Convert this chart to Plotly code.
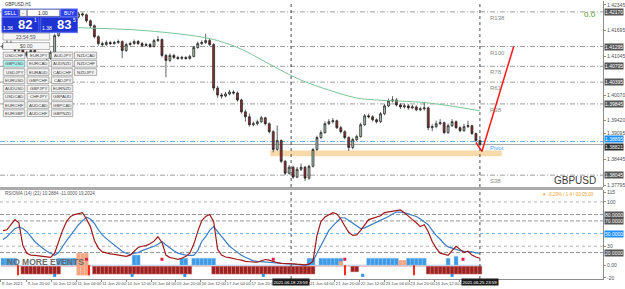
import plotly.graph_objects as go

# ---------------- data ----------------
CLOSE = [1.4132, 1.41395, 1.41295, 1.41195, 1.41245, 1.41145, 1.4107, 1.41195, 1.4112, 1.4102,
         1.4107, 1.40995, 1.41145, 1.4157, 1.41745, 1.41895, 1.41995, 1.4207, 1.42045, 1.4212,
         1.42095, 1.41945, 1.4182, 1.41545, 1.4137, 1.41345, 1.41395, 1.4137, 1.41395, 1.4142,
         1.41195, 1.41345, 1.4137, 1.4142, 1.4137, 1.4132, 1.41345, 1.41295, 1.41445, 1.4147,
         1.4107, 1.40945, 1.4107, 1.4102, 1.40995, 1.4102, 1.40995, 1.41045, 1.4127, 1.4137,
         1.41395, 1.41445, 1.41345, 1.40245, 1.4007, 1.40045, 1.40095, 1.40145, 1.4012, 1.39945,
         1.39645, 1.3952, 1.3932, 1.39345, 1.39395, 1.39495, 1.39345, 1.39145, 1.38695, 1.3892,
         1.38395, 1.38095, 1.38245, 1.37995, 1.38195, 1.38245, 1.3797, 1.3827, 1.38695, 1.38995,
         1.3912, 1.39345, 1.39395, 1.3942, 1.39245, 1.39145, 1.38995, 1.38745, 1.38945, 1.3902,
         1.3932, 1.39545, 1.3952, 1.39445, 1.39395, 1.39595, 1.39795, 1.3992, 1.39945, 1.3982,
         1.3977, 1.39795, 1.39745, 1.3977, 1.39695, 1.3972, 1.39745, 1.39245, 1.3927, 1.39345,
         1.3937, 1.3912, 1.39295, 1.39395, 1.39245, 1.3917, 1.3927, 1.39295, 1.39095, 1.3892,
         1.3882]
HIGH = [1.4138, 1.4145, 1.4144, 1.4134, 1.4130, 1.4129, 1.4119, 1.4125, 1.4124, 1.4116,
        1.4112, 1.4110, 1.4119, 1.4161, 1.4180, 1.4194, 1.4204, 1.4212, 1.4211, 1.4217,
        1.4215, 1.4213, 1.4198, 1.4185, 1.4158, 1.4142, 1.4145, 1.4144, 1.4144, 1.4147,
        1.4145, 1.4139, 1.4142, 1.4147, 1.4146, 1.4141, 1.4139, 1.4138, 1.4149, 1.4156,
        1.4150, 1.4111, 1.4112, 1.4111, 1.4106, 1.4106, 1.4105, 1.4109, 1.4131, 1.4142,
        1.4145, 1.4162, 1.4150, 1.4138, 1.4030, 1.4012, 1.4015, 1.4020, 1.4019, 1.4016,
        1.3998, 1.3970, 1.3960, 1.3940, 1.3945, 1.3954, 1.3952, 1.3938, 1.3918, 1.3930,
        1.3895, 1.3843, 1.3830, 1.3828, 1.3825, 1.3834, 1.3828, 1.3831, 1.3873, 1.3904,
        1.3918, 1.3940, 1.3946, 1.3949, 1.3945, 1.3929, 1.3918, 1.3903, 1.3899, 1.3907,
        1.3937, 1.3959, 1.3960, 1.3956, 1.3948, 1.3964, 1.3984, 1.3998, 1.4004, 1.3999,
        1.3986, 1.3985, 1.3984, 1.3982, 1.3981, 1.3977, 1.3990, 1.3978, 1.3933, 1.3942,
        1.3946, 1.3940, 1.3935, 1.3946, 1.3943, 1.3928, 1.3934, 1.3942, 1.3932, 1.3912,
        1.3895]
LOW = [1.4122, 1.4128, 1.4125, 1.4115, 1.4116, 1.4110, 1.4102, 1.4104, 1.4108, 1.4098,
       1.4099, 1.4095, 1.4096, 1.4112, 1.4153, 1.4171, 1.4186, 1.4196, 1.4200, 1.4201,
       1.4205, 1.4190, 1.4176, 1.4150, 1.4132, 1.4130, 1.4131, 1.4133, 1.4134, 1.4136,
       1.4100, 1.4116, 1.4131, 1.4134, 1.4133, 1.4128, 1.4129, 1.4126, 1.4127, 1.4141,
       1.4102, 1.4052, 1.4090, 1.4098, 1.4096, 1.4096, 1.4096, 1.4096, 1.4102, 1.4124,
       1.4133, 1.4136, 1.4130, 1.4018, 1.4000, 1.3998, 1.4001, 1.4006, 1.4008, 1.3990,
       1.3960, 1.3940, 1.3927, 1.3928, 1.3930, 1.3936, 1.3930, 1.3910, 1.3862, 1.3866,
       1.3835, 1.3805, 1.3806, 1.3795, 1.3797, 1.3815, 1.3790, 1.3793, 1.3824, 1.3866,
       1.3896, 1.3909, 1.3931, 1.3935, 1.3921, 1.3910, 1.3895, 1.3866, 1.3870, 1.3890,
       1.3899, 1.3929, 1.3948, 1.3940, 1.3935, 1.3936, 1.3956, 1.3976, 1.3988, 1.3978,
       1.3972, 1.3973, 1.3970, 1.3971, 1.3966, 1.3966, 1.3968, 1.3918, 1.3916, 1.3923,
       1.3931, 1.3908, 1.3909, 1.3926, 1.3921, 1.3913, 1.3914, 1.3924, 1.3906, 1.3888,
       1.3877]
FIRST_OPEN = 1.4127
OPEN = [FIRST_OPEN] + CLOSE[:-1]
BARS = list(range(len(CLOSE)))

MA_BARS = [0, 19, 36, 52, 59, 64, 69, 75, 82, 89, 94, 107, 120]
MA_VALUES = [1.4182, 1.4177, 1.41695, 1.41495, 1.4127, 1.4102, 1.40745, 1.40445,
             1.40195, 1.39995, 1.39945, 1.3987, 1.3967]

PROJ_BARS = [119, 120.5, 128.5]
PROJ_VALUES = [1.3887, 1.38645, 1.41295]

LEVEL_NAMES = ["R138", "R100", "R78", "R61", "R38", "Pivot", "S38"]
LEVEL_VALUES = [1.4217, 1.41295, 1.40795, 1.40395, 1.39845, 1.38895, 1.38045]
BID = 1.38821
ZONE_LOW, ZONE_HIGH = 1.38520, 1.38670
ZONE_START, ZONE_END = 67.25, 125.5
MARK_BARS = [72.5, 120]
MARK_LABELS = ["2021.06.18 23:59", "2021.06.25 23:59"]

PRICE_TICKS = [1.37795, 1.38445, 1.39095, 1.39420, 1.40070, 1.41045, 1.41695, 1.42345]

TIME_TICKS = [-0.5, 6, 12.25, 18.5, 24.75, 31, 37.25, 43.5, 49.75, 56, 62.25,
              77, 83.5, 89.75, 96, 102.25, 108.5, 114.75]
TIME_LABELS = ["8 Jun 2021", "9 Jun 20:00", "10 Jun 12:00", "11 Jun 04:00", "11 Jun 20:00",
               "14 Jun 12:00", "15 Jun 04:00", "15 Jun 20:00", "16 Jun 12:00", "17 Jun 04:00",
               "17 Jun 20:00", "21 Jun 04:00", "21 Jun 20:00", "22 Jun 12:00", "23 Jun 04:00",
               "23 Jun 20:00", "24 Jun 12:00", "25 Jun 04:00"]

RSI_RED = [54.7, 56, 64, 72, 67, 31, 19, 16, 15.6, 15,
           14, 13, 12.5, 19, 37, 55, 69, 77, 80, 82,
           83, 73, 61, 39, 27, 21, 19, 18, 17, 16,
           15, 14, 16, 22, 28, 30, 31, 34, 38, 45,
           36, 16, 12, 11, 9.4, 11, 14, 19, 33, 53,
           70, 77, 80, 69, 25, 16, 13, 12, 10, 9,
           8, 6, 5.5, 5, 4.7, 7, 9, 8, 5.5, 4,
           3, 3, 2.5, 2.3, 1.6, 1.1, 0.6, 1.6, 6, 47,
           69, 76, 80, 83, 81, 73, 62, 52, 47, 48,
           55, 64, 72, 74, 76, 78, 83, 84, 86, 87,
           87.5, 83, 77, 72, 67, 61, 64, 53, 37.5, 27,
           19, 17, 15.6, 23, 30, 25, 20, 22, 16, 13,
           11]
RSI_BLUE = [40.6, 45, 51.5, 58, 60, 58, 53, 45, 37.5, 32,
            27, 22, 19, 15.6, 20, 30, 39, 47, 56, 64,
            70, 76, 73, 66, 56, 48, 42, 37, 31, 26,
            22, 19, 17, 19, 20, 23, 25, 27, 30, 33,
            37.5, 32, 27, 23, 19, 17, 16, 15.6, 15.6, 23,
            37.5, 45, 55, 61, 53, 45, 37.5, 30, 25, 20,
            15.6, 12.5, 9.4, 7, 6, 5.5, 4.7, 4.7, 4.2, 3.8,
            3.1, 3.1, 2.8, 2.3, 1.6, 0.8, 0, 0.8, 6, 19,
            31, 42, 55, 62, 69, 75, 75, 71, 66, 62,
            58, 59, 62, 64, 67, 70, 73, 77, 81, 84,
            84, 83, 81, 79, 77, 73, 69, 64, 55, 47,
            41, 34, 29, 27, 24, 23, 22, 22, 21, 19.5,
            19]
HIST_UP = [11, 11, 11, 11, 0, 0, 0, 0, 0, 0,
           0, 0, 0, 0, 11, 11, 11, 11, 11, 11,
           0, 0, 0, 0, 0, 0, 0, 0, 0, 0,
           0, 0, 0, 16, 16, 0, 0, 0, 0, 0,
           0, 0, 0, 0, 0, 11, 11, 0, 11, 11,
           11, 11, 11, 11, 0, 0, 0, 0, 0, 0,
           0, 0, 0, 0, 0, 0, 0, 0, 0, 0,
           0, 0, 0, 0, 0, 0, 0, 11, 11, 0,
           11, 11, 11, 11, 11, 11, 0, 0, 0, 0,
           0, 0, 11, 11, 11, 11, 11, 11, 11, 11,
           0, 0, 11, 11, 11, 11, 11, 0, 0, 0,
           0, 0, 11, 0, 14, 0, 0, 0, 0, 0,
           0]
HIST_DN = [0, 0, 0, 0, 0, -12.5, -12.5, -12.5, -12.5, -12.5,
           -12.5, -12.5, -12.5, -12.5, -12.5, 0, 0, 0, 0, 0,
           0, 0, 0, -12.5, -12.5, -12.5, -12.5, -12.5, -12.5, -12.5,
           -12.5, -12.5, -12.5, -12.5, -12.5, -12.5, -12.5, -12.5, -12.5, -12.5,
           -12.5, -12.5, -12.5, -12.5, -12.5, -12.5, -12.5, -12.5, 0, 0,
           0, 0, 0, -12.5, -12.5, -12.5, -12.5, -12.5, -12.5, -12.5,
           -12.5, -12.5, -12.5, -12.5, -12.5, -12.5, -12.5, -12.5, -12.5, -12.5,
           -12.5, -12.5, -12.5, -12.5, -12.5, -12.5, -12.5, -12.5, -12.5, 0,
           0, 0, 0, 0, 0, 0, 0, 0, -9, -9,
           0, 0, 0, 0, 0, 0, 0, 0, 0, 0,
           0, 0, 0, 0, 0, 0, 0, -12.5, -12.5, -12.5,
           -12.5, -12.5, -12.5, -12.5, -12.5, -12.5, -12.5, -12.5, -12.5, -12.5,
           -12.5]
HIST_DN_BASE = -1.5
SALMON_BARS = [19, 20, 21, 85, 100, 101]
SALMON_VALUES = [35, 35, 35, 6, 8, 8]
SALMON_BASE = [-16, -16, -16, 0, 0, 0]
SPIKE_BARS = [3.75, 21.75, 86, 103.5]
SPIKE_VALUES = [-16, -16, -16, -16]
RED_DOT_BARS = [21, 40, 68, 86, 115.75]
RED_DOT_VALUES = [9.4, 9.4, 9.4, 9.4, 9.4]
BLUE_DOT_BARS = [13, 32.5, 45.75, 65.5, 90.5, 113]
BLUE_DOT_VALUES = [-16, -16, -16, -16, -16, -16]

RSI_LEVELS = [100, 80, 70, 50, 30, 20]
RSI_LEVEL_HL = [80, 70, 50, 20]

PAIR_ROWS = [["USDCHF", "EURJPY", "AUDJPY", "NZDCAD"],
             ["GBPUSD", "EURCAD", "AUDNZD", "NZDCHF"],
             ["USDJPY", "EURAUD", "CADCHF", "NZDJPY"],
             ["EURUSD", "GBPCHF", "CADJPY"],
             ["AUDUSD", "GBPJPY", "EURNZD"],
             ["USDCAD", "CHFJPY", "GBPAUD"],
             ["EURCHF", "AUDCAD", "GBPCAD"],
             ["EURGBP", "AUDCHF", "GBPNZD"]]

# ---------------- layout helpers ----------------
W, H = 625, 289
def px(x):
    return x / W
def py(y):
    return 1 - y / H

FONT = "Liberation Sans"
XR = [-0.75, 151.0]
PLOT_R = px(607)
MAIN_DOM = [py(188), 1.0]
SUB_DOM = [py(281), py(191)]

fig = go.Figure()

# --- main panel ---
fig.add_trace(go.Candlestick(
    x=BARS, open=OPEN, high=HIGH, low=LOW, close=CLOSE,
    increasing=dict(line=dict(color="#1c1c1c", width=0.7), fillcolor="#a9c0b2"),
    decreasing=dict(line=dict(color="#1c1c1c", width=0.7), fillcolor="#8c3030"),
    whiskerwidth=0, hoverinfo="skip", xaxis="x", yaxis="y"))
fig.add_trace(go.Scatter(x=MA_BARS, y=MA_VALUES, mode="lines",
                         line=dict(color="#7cc49c", width=1, shape="spline"),
                         hoverinfo="skip", xaxis="x", yaxis="y"))
fig.add_trace(go.Scatter(x=PROJ_BARS, y=PROJ_VALUES, mode="lines",
                         line=dict(color="#ff1a1a", width=1.5),
                         hoverinfo="skip", xaxis="x", yaxis="y", cliponaxis=False))

# --- indicator panel ---
fig.add_trace(go.Bar(x=BARS, y=HIST_UP, base=0, width=1,
                     marker=dict(color="#3f9be6", line=dict(color="#8cc6f5", width=0.4)),
                     hoverinfo="skip", xaxis="x2", yaxis="y2"))
fig.add_trace(go.Bar(x=BARS, y=HIST_DN, base=HIST_DN_BASE, width=1,
                     marker=dict(color="#9c2222", line=dict(color="#e38a8a", width=0.4)),
                     hoverinfo="skip", xaxis="x2", yaxis="y2"))
fig.add_trace(go.Bar(x=SALMON_BARS, y=SALMON_VALUES, base=SALMON_BASE, width=1,
                     marker=dict(color="#f4a582", line=dict(width=0)),
                     hoverinfo="skip", xaxis="x2", yaxis="y2"))
fig.add_trace(go.Bar(x=SPIKE_BARS, y=SPIKE_VALUES, base=0, width=0.3,
                     marker=dict(color="#ff2a1a", line=dict(width=0)),
                     hoverinfo="skip", xaxis="x2", yaxis="y2"))
fig.add_trace(go.Scatter(x=BARS, y=RSI_BLUE, mode="lines", line=dict(color="#3a7dc4", width=1.2),
                         hoverinfo="skip", xaxis="x2", yaxis="y2"))
fig.add_trace(go.Scatter(x=BARS, y=RSI_RED, mode="lines", line=dict(color="#a01818", width=1.2),
                         hoverinfo="skip", xaxis="x2", yaxis="y2"))
fig.add_trace(go.Scatter(x=RED_DOT_BARS, y=RED_DOT_VALUES, mode="markers",
                         marker=dict(symbol="square", size=3, color="#e0204a"),
                         hoverinfo="skip", xaxis="x2", yaxis="y2"))
fig.add_trace(go.Scatter(x=BLUE_DOT_BARS, y=BLUE_DOT_VALUES, mode="markers",
                         marker=dict(symbol="square", size=3, color="#2f8fe6"),
                         hoverinfo="skip", xaxis="x2", yaxis="y2"))

shapes = []
annotations = []

# zone
shapes.append(dict(type="rect", xref="x", yref="y", x0=ZONE_START, x1=ZONE_END, y0=ZONE_LOW, y1=ZONE_HIGH,
                   fillcolor="#f8d9aa", line=dict(width=0), layer="below"))
# level lines + labels
for name, val in zip(LEVEL_NAMES, LEVEL_VALUES):
    col = "#3f9fff" if name == "Pivot" else "#858585"
    shapes.append(dict(type="line", xref="paper", yref="y", x0=0, x1=PLOT_R, y0=val, y1=val,
                       line=dict(color=col, width=0.8, dash="5px,2px,1px,2px"), layer="below"))
    annotations.append(dict(x=122, y=val, xref="x", yref="y", text=name, showarrow=False,
                            xanchor="left", yanchor="top", yshift=-1,
                            font=dict(family=FONT, size=6, color="#3f9fff" if name == "Pivot" else "#8a8a8a")))
    annotations.append(dict(x=px(608), y=val, xref="paper", yref="y", text=f"{val:.5f}", showarrow=False,
                            xanchor="left", yanchor="bottom" if name == "Pivot" else "middle",
                            yshift=-1 if name == "Pivot" else 0,
                            bgcolor="#1e8fff" if name == "Pivot" else "#555555",
                            borderpad=0, font=dict(family=FONT, size=5, color="#ffffff")))
shapes.append(dict(type="line", xref="paper", yref="y", x0=0, x1=PLOT_R, y0=BID, y1=BID,
                   line=dict(color="#a6a6a6", width=1), layer="below"))
annotations.append(dict(x=px(608), y=BID, xref="paper", yref="y", text=f"{BID:.5f}", showarrow=False,
                        xanchor="left", yanchor="top", yshift=1, bgcolor="#2e2e2e", borderpad=0,
                        font=dict(family=FONT, size=5, color="#ffffff")))

# vertical dotted markers
for b in MARK_BARS:
    for dom in (MAIN_DOM, SUB_DOM):
        shapes.append(dict(type="line", xref="x", yref="paper", x0=b, x1=b, y0=dom[0], y1=dom[1],
                           line=dict(color="#4a4a4a", width=1, dash="dot")))
for b, lab in zip(MARK_BARS, MARK_LABELS):
    annotations.append(dict(x=b, y=py(283.5), xref="x", yref="paper", text=lab, showarrow=False,
                            xanchor="center", yanchor="middle", bgcolor="#1b1b1b", borderpad=0.5,
                            font=dict(family=FONT, size=4.4, color="#ffffff")))

# RSI levels
for lv in RSI_LEVELS:
    if lv == 50:
        ln = dict(color="#4a9fff", width=0.8, dash="dot")
    elif lv in (100, 30):
        ln = dict(color="#a0a0a0", width=0.8, dash="dot")
    else:
        ln = dict(color="#7a7a7a", width=0.8, dash="4px,2px")
    shapes.append(dict(type="line", xref="paper", yref="y2", x0=0, x1=PLOT_R, y0=lv, y1=lv, line=ln, layer="below"))
for lv in RSI_LEVEL_HL:
    annotations.append(dict(x=px(608), y=lv, xref="paper", yref="y2", text=f"{lv:.4f}", showarrow=False,
                            xanchor="left", yanchor="middle", bgcolor="#1e8fff" if lv == 50 else "#555555",
                            borderpad=0, font=dict(family=FONT, size=5, color="#ffffff")))

# separator band between panels
shapes.append(dict(type="rect", xref="paper", yref="paper", x0=0, x1=PLOT_R, y0=py(191), y1=py(188),
                   fillcolor="#ababab", line=dict(width=0)))

# texts on chart
annotations.append(dict(x=px(3), y=py(3.5), xref="paper", yref="paper", text="GBPUSD,H1", showarrow=False,
                        xanchor="left", yanchor="middle", font=dict(family=FONT, size=4.5, color="#333333")))
annotations.append(dict(x=px(594), y=py(13.5), xref="paper", yref="paper", text="0.0", showarrow=False,
                        xanchor="center", yanchor="middle", font=dict(family=FONT, size=8, color="#4c9a2a")))
annotations.append(dict(x=px(579), y=py(181), xref="paper", yref="paper", text="GBPUSD", showarrow=False,
                        xanchor="center", yanchor="middle", font=dict(family=FONT, size=10, color="#3a3a3a")))
annotations.append(dict(x=px(3), y=py(195), xref="paper", yref="paper",
                        text="RSIOMA (14) (21) 10.2884 -11.0000 19.2024", showarrow=False,
                        xanchor="left", yanchor="middle", font=dict(family=FONT, size=4.5, color="#555555")))
annotations.append(dict(x=px(600), y=py(195.5), xref="paper", yref="paper",
                        text="▼ -0.29% / 1.4 / 00:05:00", showarrow=False,
                        xanchor="right", yanchor="middle", font=dict(family=FONT, size=4.5, color="#f0a030")))
annotations.append(dict(x=px(5), y=py(263.5), xref="paper", yref="paper", text="<b>NO MORE EVENTS</b>", showarrow=False,
                        xanchor="left", yanchor="middle", font=dict(family=FONT, size=8.5, color="#6a6a6a")))

# ---- trade panel (UI overlay) ----
BLUE = "#1f33d2"
def rect(x0, y0, x1, y1, fill, line="#7a7a7a", lw=0.8):
    shapes.append(dict(type="rect", xref="paper", yref="paper", x0=px(x0), x1=px(x1), y0=py(y1), y1=py(y0),
                       fillcolor=fill, line=dict(color=line, width=lw), layer="above"))
def text(x, y, t, size, color, anchor="center", bold=False):
    annotations.append(dict(x=px(x), y=py(y), xref="paper", yref="paper", text=f"<b>{t}</b>" if bold else t,
                            showarrow=False, xanchor=anchor, yanchor="middle",
                            font=dict(family=FONT, size=size, color=color)))

rect(2, 8, 78, 32, BLUE, "#6f7fff", 0.8)
rect(2, 8, 19, 16, "#2a40e6", "#9aa6ff", 0.6)
text(10.5, 12, "SELL", 5, "#ffffff")
rect(20, 8.5, 27, 15.5, "#f4f4f4", "#777777", 0.5)
text(23.5, 12, "-", 5, "#222222")
rect(27.5, 8.5, 60, 15.5, "#ffffff", "#777777", 0.5)
text(43, 12, "1.00", 5, "#222222")
rect(61, 8, 78, 16, "#2a40e6", "#9aa6ff", 0.6)
text(69.5, 12, "BUY", 5, "#ffffff")
rect(2, 16.5, 39, 31.5, BLUE, "#6f7fff", 0.6)
rect(41, 16.5, 78, 31.5, BLUE, "#6f7fff", 0.6)
text(8, 27, "1.38", 5, "#ffffff")
text(25, 24, "82", 13, "#ffffff", bold=True)
text(35.5, 19.5, "1", 5, "#ffffff")
text(47, 27, "1.38", 5, "#ffffff")
text(64, 24, "83", 13, "#ffffff", bold=True)
text(74.5, 19.5, "5", 5, "#ffffff")
rect(3, 32.5, 50, 39.5, "#f6f6f6", "#8a8a8a", 0.6)
text(26.5, 36, "23:54:59", 5, "#555555")
rect(3, 42, 50, 49, "#f6f6f6", "#8a8a8a", 0.6)
text(26.5, 45.5, "$0.00", 5, "#555555")

COLS = [(3.3, 25), (27.3, 49.3), (51.7, 73.3), (75, 97.3)]
for r, row in enumerate(PAIR_ROWS):
    y0 = 51.7 + 8.33 * r
    for c, name in enumerate(row):
        x0, x1 = COLS[c]
        fill = "#aef2f2" if name == "GBPUSD" else "#f2f2f2"
        rect(x0, y0, x1, y0 + 6.8, fill, "#7d7d7d", 0.6)
        text((x0 + x1) / 2, y0 + 3.5, name, 4.4, "#444444")

fig.update_layout(
    width=W, height=H, margin=dict(l=0, r=0, t=0, b=0),
    paper_bgcolor="#ffffff", plot_bgcolor="#ffffff",
    showlegend=False, hovermode=False, barmode="overlay",
    shapes=shapes, annotations=annotations,
    xaxis=dict(domain=[0, PLOT_R], range=XR, anchor="y", showticklabels=False, showgrid=False,
               zeroline=False, showline=False, ticks="", rangeslider=dict(visible=False)),
    yaxis=dict(domain=MAIN_DOM, range=[1.37745, 1.42445], anchor="x", side="right",
               showgrid=False, zeroline=False, showline=True, linecolor="#8c8c8c", linewidth=1,
               ticks="outside", ticklen=2, tickcolor="#8c8c8c", tickvals=PRICE_TICKS, tickformat=".5f",
               tickfont=dict(family=FONT, size=5, color="#505050")),
    xaxis2=dict(domain=[0, PLOT_R], range=XR, anchor="y2", showgrid=False, zeroline=False,
                showline=True, linecolor="#8c8c8c", linewidth=1, ticks="outside", ticklen=2,
                tickcolor="#8c8c8c", tickvals=TIME_TICKS, ticktext=TIME_LABELS, tickangle=0,
                ticklabelposition="outside right",
                tickfont=dict(family=FONT, size=4.2, color="#505050")),
    yaxis2=dict(domain=SUB_DOM, range=[-21.875, 118.75], anchor="x2", side="right",
                showgrid=False, zeroline=False, showline=True, linecolor="#8c8c8c", linewidth=1,
                ticks="outside", ticklen=2, tickcolor="#8c8c8c",
                tickvals=[115, 100, 30, 0, -20], ticktext=["115", "100", "30", "0.00", "-20"],
                tickfont=dict(family=FONT, size=5, color="#505050")),
)

fig.write_html("out.html")
